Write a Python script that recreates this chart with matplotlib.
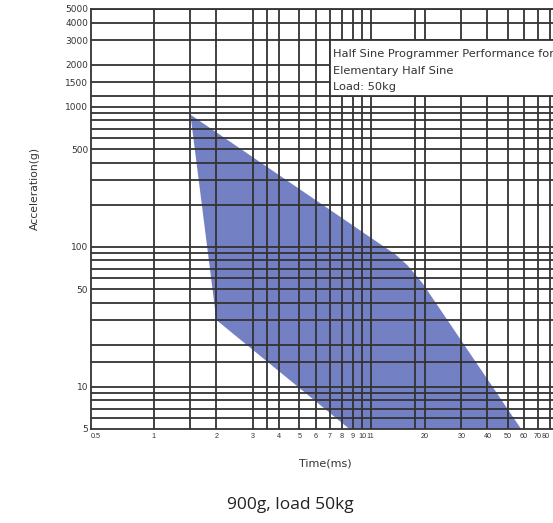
import matplotlib
matplotlib.use("Agg")
import matplotlib.pyplot as plt
from matplotlib.patches import Rectangle

# performance envelope (time ms, acceleration g)
env_t = [1.5, 14.5, 16.5, 19.5, 58, 8.7, 2.0]
env_g = [880, 88, 74, 55, 5, 5, 30]

# grid lines
vgrid = [1, 1.5, 2, 3, 3.5, 4, 5, 6, 7, 8, 9, 10, 11, 18, 20, 30, 40, 50, 60, 70, 80]
hgrid = [6, 7, 8, 9, 10, 15, 20, 30, 40, 50, 60, 70, 80, 90, 100, 200, 300, 400,
         500, 600, 700, 800, 900, 1000, 1200, 1500, 2000, 3000, 4000, 5000]

xlabels = {0.5: "0.5", 1: "1", 2: "2", 3: "3", 4: "4", 5: "5", 6: "6", 7: "7", 8: "8",
           9: "9", 10: "10", 11: "11", 20: "20", 30: "30", 40: "40", 50: "50",
           60: "60", 70: "70", 80: "80"}
ylabels = [5, 10, 50, 100, 500, 1000, 1500, 2000, 3000, 4000, 5000]

box_lines = ["Half Sine Programmer Performance for", "Elementary Half Sine", "Load: 50kg"]

fig = plt.figure(figsize=(5.53, 5.23), dpi=100)
ax = fig.add_axes([91/553, 1 - 429/523, 1 - 91/553, 420/523])
ax.set_xscale("log")
ax.set_yscale("log")
ax.set_xlim(0.5, 82.5)
ax.set_ylim(5, 5000)

gc = "#333333"
for v in vgrid:
    ax.axvline(v, color=gc, lw=1.3, zorder=2)
for h in hgrid:
    ax.axhline(h, color=gc, lw=1.3, zorder=2)

ax.fill(env_t, env_g, color="#7381c4", lw=0, zorder=1)

# white legend box over the grid
ax.add_patch(Rectangle((7, 1200), 200, 1800, facecolor="white", edgecolor=gc,
                       lw=1.3, zorder=3))
for i, s in enumerate(box_lines):
    fig.text(333/553, 1 - (54 + 16.5*i)/523, s, fontsize=8.2, color="#333333",
             va="center", ha="left", zorder=4)

ax.xaxis.set_major_locator(plt.FixedLocator(list(xlabels.keys())))
ax.xaxis.set_major_formatter(plt.FixedFormatter(list(xlabels.values())))
ax.xaxis.set_minor_locator(plt.NullLocator())
ax.yaxis.set_major_locator(plt.FixedLocator(ylabels))
ax.yaxis.set_major_formatter(plt.FixedFormatter([str(v) for v in ylabels]))
ax.yaxis.set_minor_locator(plt.NullLocator())
ax.tick_params(axis="x", length=0, pad=3, labelsize=5.2, labelcolor="#333333")
ax.tick_params(axis="y", length=0, pad=2, labelsize=6.5, labelcolor="#333333")
for lab in ax.get_xticklabels():
    lab.set_family("Liberation Sans")
    if lab.get_text() == "0.5":
        lab.set_horizontalalignment("left")
    if lab.get_text() == "80":
        lab.set_horizontalalignment("right")

for sp in ax.spines.values():
    sp.set_color(gc)
    sp.set_linewidth(1.3)
ax.spines["right"].set_visible(False)

fig.text(325/553, 1 - 463/523, "Time(ms)", fontsize=8, color="#333333",
         ha="center", va="center")
fig.text(35/553, 1 - 188/523, "Acceleration(g)", fontsize=7.8, color="#333333",
         ha="center", va="center", rotation=90)
fig.text(290/553, 1 - 505/523, "900g, load 50kg", fontsize=12.5, color="#222222",
         ha="center", va="center", family="Open Sans")

fig.savefig("out.png", dpi=100)
